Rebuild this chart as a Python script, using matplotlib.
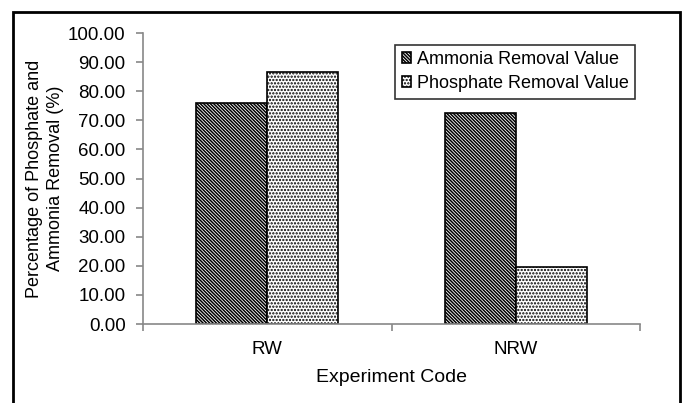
import matplotlib.pyplot as plt
from matplotlib.patches import Rectangle
import numpy as np

plt.rcParams['font.family'] = ['Liberation Sans', 'DejaVu Sans']
plt.rcParams['hatch.linewidth'] = 1.1

categories = ['RW', 'NRW']
ammonia = [75.9, 72.5]
phosphate = [86.6, 19.7]
yticks = [0, 10, 20, 30, 40, 50, 60, 70, 80, 90, 100]

fig = plt.figure(figsize=(6.86, 4.03), dpi=100)
ax = fig.add_axes([0.2085, 0.196, 0.7245, 0.722])

# outer chart frame (bottom edge cut off in the original)
fig.patches.append(Rectangle((13 / 686, -0.05), 667 / 686, 1.05 - 12 / 403,
                             transform=fig.transFigure, fill=False,
                             edgecolor='black', linewidth=2))

x = np.arange(len(categories))
w = 0.285
ax.bar(x - w / 2, ammonia, w, color='white', edgecolor='black',
       hatch='\\' * 10, linewidth=1.2, label='Ammonia Removal Value')
ax.bar(x + w / 2, phosphate, w, color='white', edgecolor='black',
       hatch='.' * 5, linewidth=1.2, label='Phosphate Removal Value')

ax.set_xlim(-0.5, 1.5)
ax.set_ylim(0, 100)
ax.set_yticks(yticks)
ax.set_yticklabels(['%.2f' % v for v in yticks], fontsize=13.5)
ax.set_xticks(x)
ax.set_xticklabels(categories, fontsize=13.5)
ax.set_xticks([-0.5, 0.5, 1.5], minor=True)
ax.tick_params(axis='x', which='major', length=0, pad=12)
ax.tick_params(axis='x', which='minor', length=5, color='#888888', width=1.2)
ax.tick_params(axis='y', length=5, color='#888888', width=1.2, pad=7.5)

for s in ['top', 'right']:
    ax.spines[s].set_visible(False)
for s in ['left', 'bottom']:
    ax.spines[s].set_color('#888888')
    ax.spines[s].set_linewidth(1.2)

ax.set_xlabel('Experiment Code', fontsize=14, labelpad=8)
ax.set_ylabel('Percentage of Phosphate and\nAmmonia Removal (%)', fontsize=13,
              labelpad=3, linespacing=1.3)

leg = ax.legend(loc='upper right', bbox_to_anchor=(0.99, 0.96), fontsize=13,
                frameon=True, fancybox=False, edgecolor='black',
                handlelength=0.55, handleheight=0.55, handletextpad=0.3,
                borderpad=0.35, labelspacing=0.4, borderaxespad=0)
leg.get_frame().set_linewidth(1.2)

fig.savefig('out.png', dpi=100)
